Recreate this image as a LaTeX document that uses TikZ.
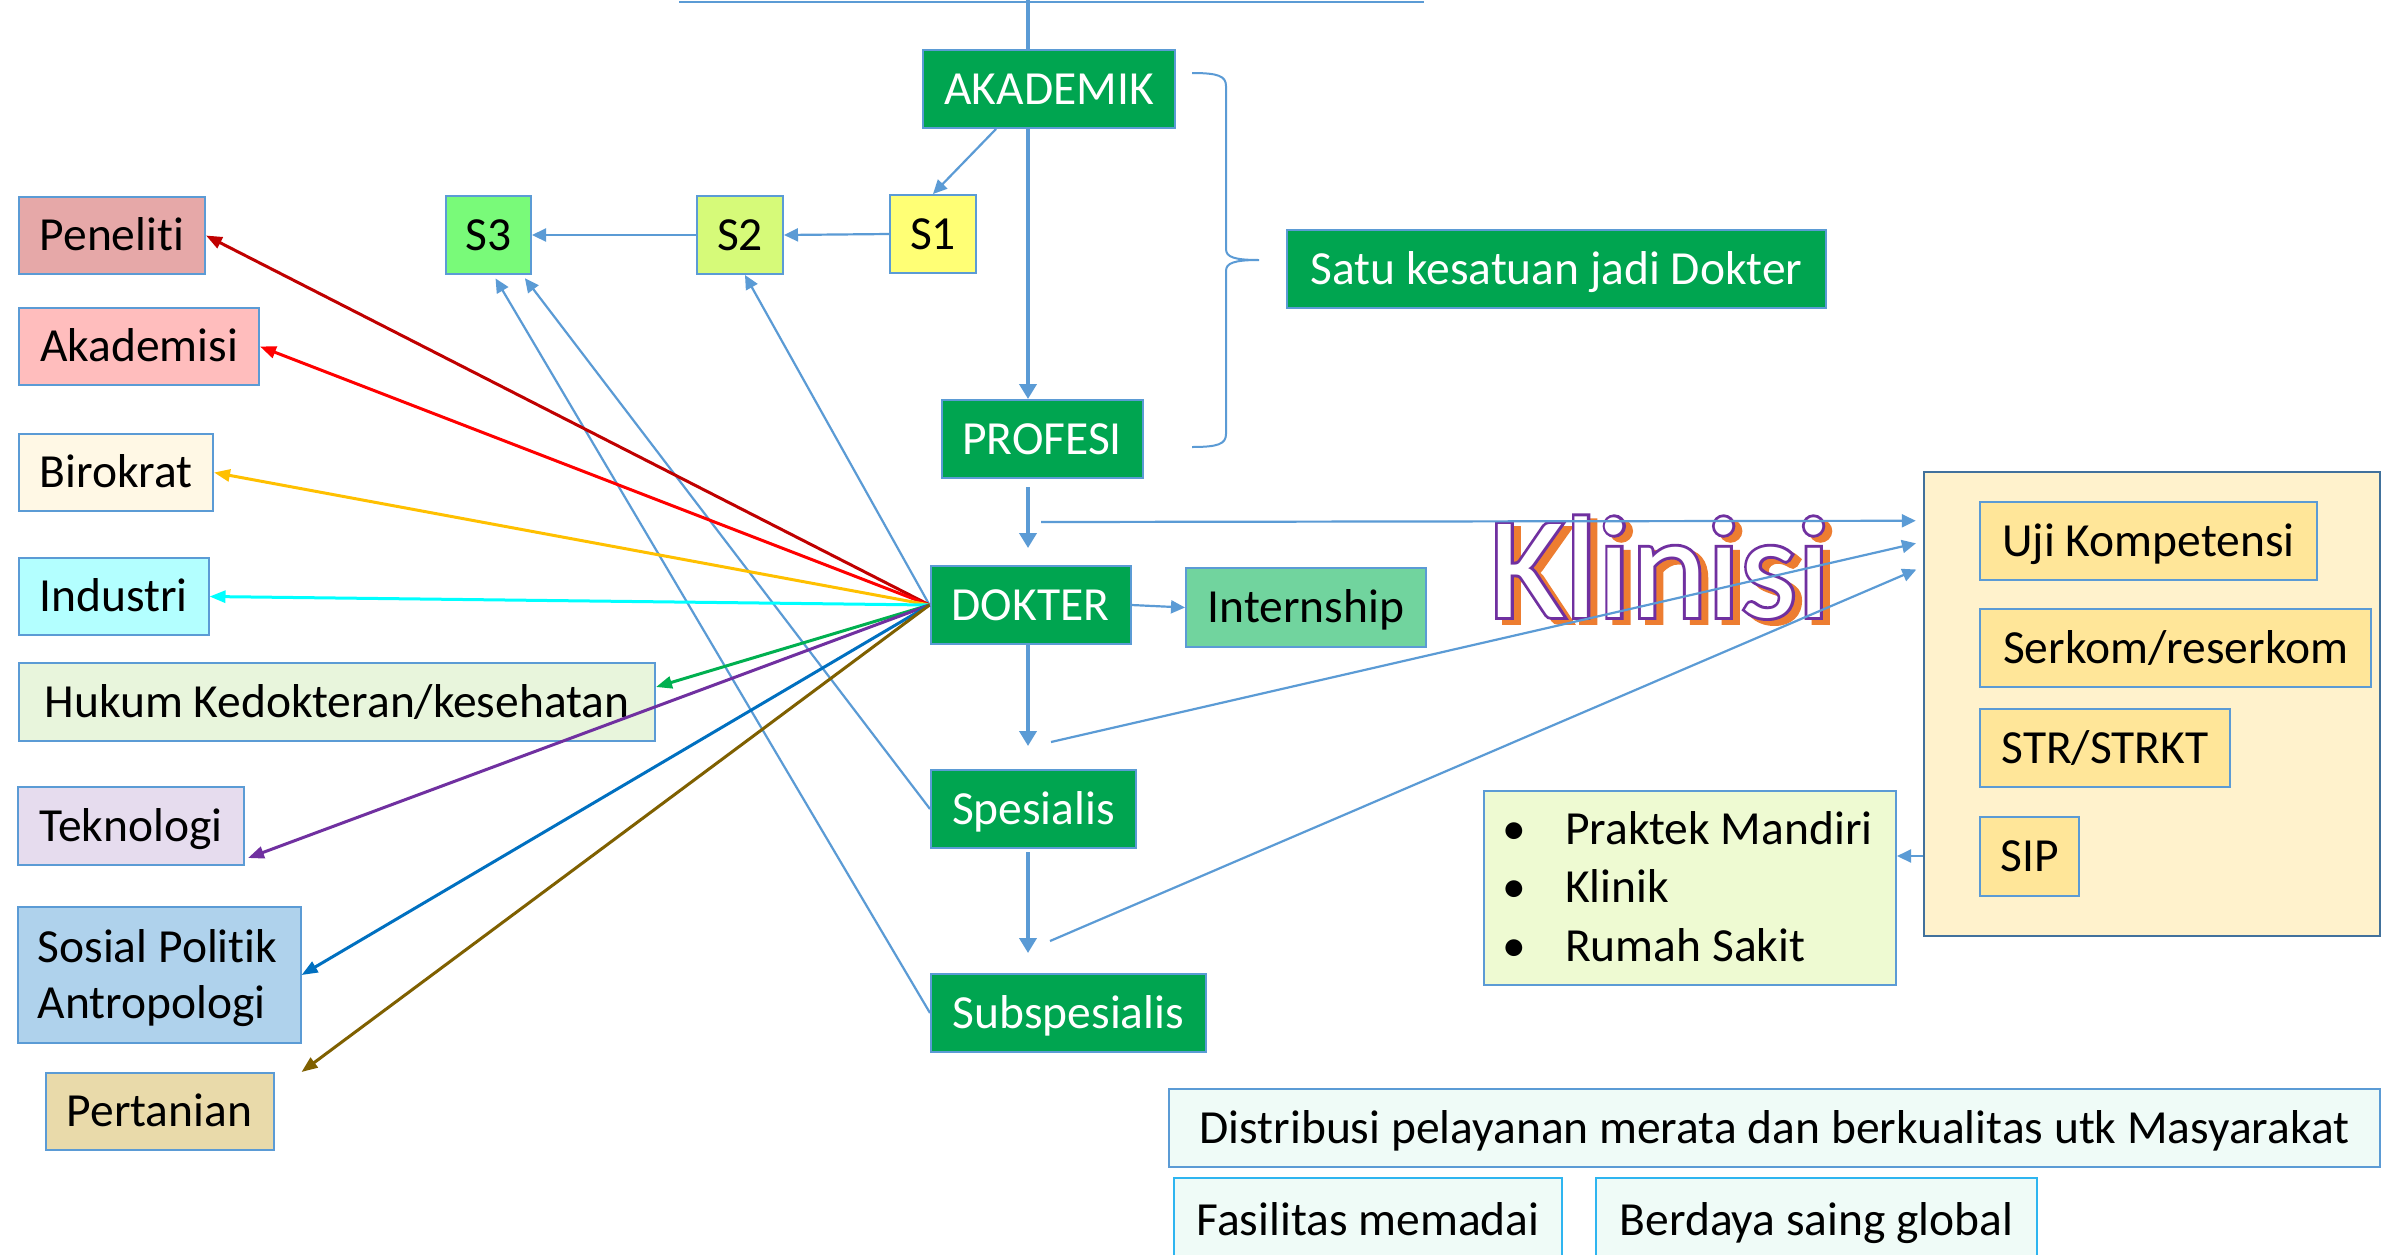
\documentclass[tikz,border=0pt]{standalone}
\usepackage{fontspec}
\setmainfont[Ligatures={NoCommon,NoRare,NoContextual},Contextuals=NoAlternate]{Carlito}
\usetikzlibrary{arrows.meta,calc}
\definecolor{lblue}{HTML}{5B9BD5}
\definecolor{dgreen}{HTML}{00A550}
\definecolor{penfill}{HTML}{E6A8A8}
\definecolor{akdfill}{HTML}{FFBDBD}
\definecolor{birfill}{HTML}{FFF8E5}
\definecolor{indfill}{HTML}{B3FFFF}
\definecolor{hukfill}{HTML}{E8F5DC}
\definecolor{tekfill}{HTML}{E6DCEE}
\definecolor{sosfill}{HTML}{AFD2EC}
\definecolor{perfill}{HTML}{E9DAAA}
\definecolor{sonefill}{HTML}{FFFF75}
\definecolor{stwofill}{HTML}{D6FA79}
\definecolor{sthreefill}{HTML}{79FA79}
\definecolor{intfill}{HTML}{71D49E}
\definecolor{kfill}{HTML}{FFF2CC}
\definecolor{kbord}{HTML}{41719C}
\definecolor{ujifill}{HTML}{FFE699}
\definecolor{prakfill}{HTML}{EEFAD2}
\definecolor{distfill}{HTML}{EFFBF7}
\definecolor{cyanb}{HTML}{2EB5F0}
\definecolor{cpen}{HTML}{C00000}
\definecolor{cakd}{HTML}{FF0000}
\definecolor{cbir}{HTML}{FFC000}
\definecolor{cind}{HTML}{00FFFF}
\definecolor{chuk}{HTML}{00B050}
\definecolor{ctek}{HTML}{7030A0}
\definecolor{csos}{HTML}{0070C0}
\definecolor{cper}{HTML}{7F6000}
\definecolor{kpurple}{HTML}{7030A0}
\definecolor{korange}{HTML}{ED7D31}
\newcommand\fsz{\fontsize{47.5}{57}\selectfont}
\font\klinbold="Carlito:embolden=4" at 145pt
\font\klinplain="Carlito" at 145pt
\begin{document}
\begin{tikzpicture}[x=1pt,y=-1pt,
 bx/.style={draw=lblue, line width=2pt, inner sep=0pt, text height=30.6pt, text depth=0pt, font=\fsz, text=black},
 gbox/.style={bx, fill=dgreen, text=white},
 sz/.style 2 args={minimum width=#1pt, minimum height=#2pt},
 lbl/.style={inner sep=0pt, font=\fsz, text=black},
 flow/.style={draw=lblue, line width=4pt, -{Triangle[length=15pt,width=17pt]}},
 flowline/.style={draw=lblue, line width=4pt},
 thinar/.style={draw=lblue, line width=2.2pt, -{Triangle[length=14pt,width=13pt]}},
 thinline/.style={draw=lblue, line width=2pt},
 col/.style={line width=3pt, -{Triangle[length=16pt,width=12pt]}},
]
\useasboundingbox (0,0) rectangle (2382,1254);
\fill[white] (0,0) rectangle (2382,1254);

% ---------- coordinates ----------
\coordinate (tl) at (679,1.5);
\coordinate (tr) at (1424,1.5);
\coordinate (axis) at (1028,0);
\coordinate (kone) at (1041,522);
\coordinate (ktwo) at (1051,742);
\coordinate (kthree) at (1050,941);

% ---------- central column ----------
\node[gbox, sz={252}{78}] (akad) at (1049,89) {AKADEMIK};
\node[bx, fill=sonefill, sz={86}{78}] (s1) at (933,234) {S1};
\node[bx, fill=stwofill, sz={86}{78}] (s2) at (740,235) {S2};
\node[bx, fill=sthreefill, sz={85}{78}] (s3) at (488.5,235) {S3};
\node[gbox, sz={201}{78}] (prof) at (1042,439) {PROFESI};
\node[gbox, sz={539}{78}] (satu) at (1556.5,269) {Satu kesatuan jadi Dokter};
\node[gbox, sz={200}{78}] (dok) at (1030.5,605) {DOKTER};
\node[bx, fill=intfill, sz={240}{79}] (intern) at (1306,607.5) {Internship};
\node[gbox, sz={205}{78}] (spes) at (1033.5,809) {Spesialis};
\node[gbox, sz={275}{78}] (subs) at (1068.5,1013) {Subspesialis};

% ---------- left column ----------
\node[bx, fill=penfill, sz={186}{77}] (pen) at (112,235.5) {Peneliti};
\node[bx, fill=akdfill, sz={240}{77}] (akd) at (139,346.5) {Akademisi};
\node[bx, fill=birfill, sz={194}{77}] (bir) at (116,472.5) {Birokrat};
\node[bx, fill=indfill, sz={189.5}{77}] (ind) at (113.75,596.5) {Industri};
\node[bx, fill=hukfill, sz={636}{78}] (huk) at (337,702) {Hukum Kedokteran/kesehatan};
\node[bx, fill=tekfill, sz={226}{78}] (tek) at (131,826) {Teknologi};
\node[bx, fill=sosfill, sz={282.6}{136}] (sos) at (159.3,975) {};
\node[lbl, anchor=base west] (sosa) at (37.5,962) {Sosial Politik};
\node[lbl, anchor=base west] (sosb) at (37.5,1018.5) {Antropologi};
\node[bx, fill=perfill, sz={228}{77}] (per) at (159.5,1111.5) {Pertanian};

% ---------- right block ----------
\node[draw=kbord, line width=2.5pt, fill=kfill, inner sep=0pt, sz={456}{464}] (big) at (2152,704) {};
\node[bx, fill=ujifill, sz={337}{78}] (uji) at (2148.5,541) {Uji Kompetensi};
\node[bx, fill=ujifill, sz={391}{78}] (ser) at (2175.5,648) {Serkom/reserkom};
\node[bx, fill=ujifill, sz={250}{78}] (str) at (2105,748) {STR/STRKT};
\node[bx, fill=ujifill, sz={99}{79}] (sip) at (2029.5,856.5) {SIP};
\node[bx, fill=prakfill, sz={412}{194}] (prak) at (1690,888) {};
\node[lbl, anchor=base west] (pa) at (1502,844) {\makebox[63pt][l]{•}Praktek Mandiri};
\node[lbl, anchor=base west] (pb) at (1502,902) {\makebox[63pt][l]{•}Klinik};
\node[lbl, anchor=base west] (pc) at (1502,961) {\makebox[63pt][l]{•}Rumah Sakit};

% ---------- bottom ----------
\node[bx, fill=distfill, sz={1211}{78}] (dist) at (1774.5,1128) {Distribusi pelayanan merata dan berkualitas utk Masyarakat};
\node[bx, draw=cyanb, fill=distfill, sz={388}{84}] (fas) at (1368,1220) {Fasilitas memadai};
\node[bx, draw=cyanb, fill=distfill, sz={441}{84}] (ber) at (1816.5,1220) {Berdaya saing global};

% ---------- Klinisi word art ----------
\node[inner sep=0pt, anchor=base west] (klin) at (1489,617)
 {\rlap{\hspace{7pt}\raisebox{-5pt}{\klinbold\textcolor{korange}{Klinisi}}}\rlap{\klinbold\textcolor{kpurple}{Klinisi}}{\klinplain\textcolor{white}{Klinisi}}};

% ---------- brace ----------
\draw[thinline] (1192,73) .. controls (1218,73) and (1226,76) .. (1226,86) -- (1226,249)
  .. controls (1226,257) and (1234,260) .. (1259,260)
  .. controls (1234,260) and (1226,263) .. (1226,271) -- (1226,434)
  .. controls (1226,444) and (1218,447) .. (1192,447);

% ---------- main flow ----------
\draw[thinline] (tl) -- (tr);
\draw[flowline] (axis) -- (akad.north -| axis);
\draw[flow] (akad.south -| axis) -- (prof.north -| axis);
\draw[flow, shorten <=8pt, shorten >=17pt] (prof.south -| axis) -- (dok.north -| axis);
\draw[flow, shorten >=23pt] (dok.south -| axis) -- (spes.north -| axis);
\draw[flow, shorten <=3pt, shorten >=20pt] (spes.south -| axis) -- (subs.north -| axis);

\draw[thinar] ([xshift=-53pt]akad.south) -- (s1.north);
\draw[thinar] (s1.west) -- (s2.east);
\draw[thinar] (s2.west) -- (s3.east);
\draw[thinar] (dok.east) -- (intern.west);

% ---------- to S2 / S3 ----------
\draw[thinar] (dok.west) -- ([xshift=5pt]s2.south);
\draw[thinar, shorten >=4pt] (spes.west) -- ([xshift=34pt]s3.south);
\draw[thinar, shorten >=4pt] (subs.west) -- ([xshift=5pt]s3.south);

% ---------- career arrows ----------
\draw[col, cpen] (dok.west) -- (pen.east);
\draw[col, cakd] (dok.west) -- (akd.east);
\draw[col, cbir] (dok.west) -- (bir.east);
\draw[col, cind] (dok.west) -- (ind.east);
\draw[col, chuk] (dok.west) -- ([yshift=15pt]huk.east);
\draw[col, ctek] (dok.west) -- ([xshift=3pt,yshift=8pt]tek.south east);
\draw[col, csos] (dok.west) -- (sos.east);
\draw[col, cper] (dok.west) -- ([xshift=27pt]per.north east);

% ---------- to Klinisi block ----------
\draw[thinar, shorten >=7pt] (kone) -- ([yshift=-50pt]big.north west);
\draw[thinar, shorten >=7pt] (ktwo) -- ([yshift=-71pt]big.north west);
\draw[thinar, shorten >=7pt] (kthree) -- ([yshift=-96pt]big.north west);
\draw[thinar] ([yshift=-152pt]big.west) -- ([yshift=32pt]prak.east);
\end{tikzpicture}
\end{document}
